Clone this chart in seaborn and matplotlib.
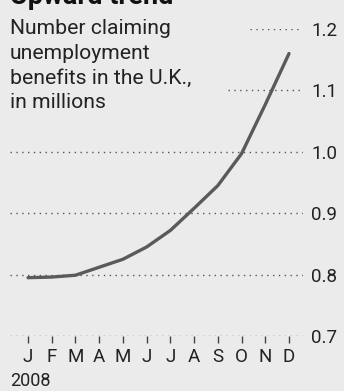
import matplotlib
matplotlib.use("Agg")
import matplotlib.pyplot as plt
import seaborn as sns
import pandas as pd

months = ["J", "F", "M", "A", "M", "J", "J", "A", "S", "O", "N", "D"]
claimants = [0.795, 0.796, 0.799, 0.812, 0.825, 0.845, 0.872, 0.908, 0.945, 0.997, 1.077, 1.160]
yticks = [0.7, 0.8, 0.9, 1.0, 1.1, 1.2]
ytick_labels = ["0.7", "0.8", "0.9", "1.0", "1.1", "1.2"]
title = "Upward trend"
subtitle = "Number claiming\nunemployment\nbenefits in the U.K.,\nin millions"
year_label = "2008"

BG = "#ebebeb"
sns.set_theme(style="white")
plt.rcParams["font.family"] = ["Roboto", "DejaVu Sans"]

W, H = 344, 391
fig = plt.figure(figsize=(W / 100, H / 100), dpi=100, facecolor=BG)
ax = fig.add_axes([10 / W, 1 - 336 / H, 293 / W, 307 / H])
ax.set_facecolor(BG)

df = pd.DataFrame({"x": range(len(months)), "value": claimants})

grid_start = {1.2: 0.82, 1.1: 0.744}
for yv in yticks:
    ax.axhline(yv, xmin=grid_start.get(yv, 0.0), xmax=1.0, color="#555555",
               lw=1.0, ls=(0, (1, 3.2)), zorder=1)

sns.lineplot(data=df, x="x", y="value", ax=ax, color="#5a5a5a", lw=2.4, zorder=3)

ax.set_xlim(-0.76, 11.59)
ax.set_ylim(0.7, 1.2)
ax.set_xticks(range(len(months)))
ax.set_xticklabels(months, fontsize=13.5, color="#222222")
ax.tick_params(axis="x", bottom=True, direction="out", length=5, width=1,
               color="#444444", pad=4)
ax.yaxis.tick_right()
ax.set_yticks(yticks)
ax.set_yticklabels(ytick_labels, fontsize=13.5, color="#222222")
ax.tick_params(axis="y", length=0, pad=6)
ax.set_xlabel("")
ax.set_ylabel("")
for s in ax.spines.values():
    s.set_visible(False)

fig.text(10 / W, 1 - 4 / H, title, fontsize=19.5, fontweight="bold", color="#111111",
         ha="left", va="baseline")
fig.text(10 / W, 1 - 19 / H, subtitle, fontsize=15.2, color="#222222",
         ha="left", va="top", linespacing=1.38)
fig.text(10 / W, 1 - 386 / H, year_label, fontsize=13, color="#222222",
         ha="left", va="baseline")

fig.savefig("out.png", dpi=100, facecolor=BG)
